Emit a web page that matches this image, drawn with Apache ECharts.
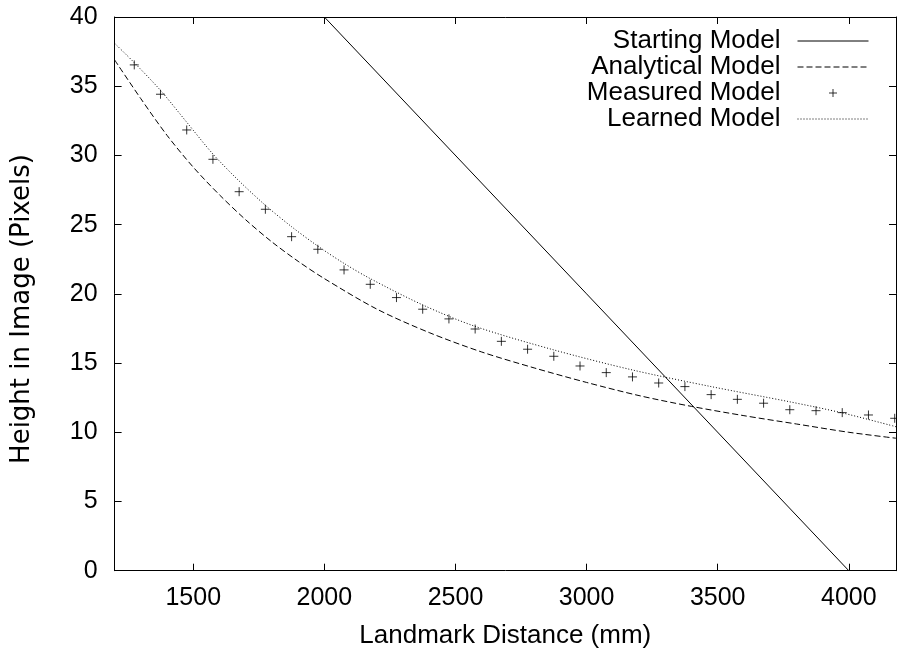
<!DOCTYPE html>
<html><head><meta charset="utf-8">
<script src="https://cdn.jsdelivr.net/npm/echarts@6/dist/echarts.min.js"></script>
<style>html,body{margin:0;padding:0;background:#fff}#c{width:897px;height:654px}</style>
</head><body><div id="c"></div>
<script>
// ---- data ----
const xTickValues = [1500, 2000, 2500, 3000, 3500, 4000];
const yTickValues = [0, 5, 10, 15, 20, 25, 30, 35, 40];

const seriesNames = ['Starting Model', 'Analytical Model', 'Measured Model', 'Learned Model'];

const startingX = [2000, 4000];
const startingY = [40, 0];

const analyticalX = [1200, 1300, 1400, 1500, 1600, 1700, 1800, 1900, 2000, 2200, 2400, 2600, 2800, 3000, 3200, 3400, 3600, 3800, 4000, 4180];
const analyticalY = [36.9, 34.1, 31.45, 29.15, 27.15, 25.35, 23.75, 22.35, 21.1, 18.9, 17.2, 15.8, 14.65, 13.6, 12.65, 11.87, 11.2, 10.6, 10.0, 9.57];

const measuredX = [1275, 1375, 1475, 1575, 1675, 1775, 1875, 1975, 2075, 2175, 2275, 2375, 2475, 2575, 2675, 2775, 2875, 2975, 3075, 3175, 3275, 3375, 3475, 3575, 3675, 3775, 3875, 3975, 4075, 4175];
const measuredY = [36.54, 34.42, 31.84, 29.72, 27.38, 26.11, 24.13, 23.22, 21.73, 20.69, 19.73, 18.89, 18.19, 17.46, 16.57, 16.0, 15.49, 14.79, 14.31, 14.0, 13.56, 13.3, 12.72, 12.38, 12.1, 11.63, 11.56, 11.42, 11.25, 11.01];

const learnedX = [1200, 1275, 1375, 1475, 1575, 1675, 1775, 1875, 1975, 2075, 2175, 2375, 2575, 2875, 3175, 3475, 3775, 3975, 4180];
const learnedY = [38.1, 36.7, 34.7, 32.4, 30.1, 28.15, 26.4, 24.85, 23.45, 22.2, 21.1, 19.2, 17.65, 15.95, 14.5, 13.3, 12.2, 11.4, 10.4];

// ---- build ----
const zip = (xs, ys) => xs.map((x, i) => [x, ys[i]]);
const FONT = '"Liberation Sans", Arial, Helvetica, sans-serif';
const X_MIN = 1200, X_MAX = 4180;

const chart = echarts.init(document.getElementById('c'), null, {renderer: 'canvas'});

const axisLine = {show: true, onZero: false, lineStyle: {color: '#000', width: 1}};
const tickIn = (vals) => ({show: true, inside: true, length: 7, lineStyle: {color: '#000', width: 1}, customValues: vals});
const plain = (v) => String(v);

const legendTops = [28, 54, 80, 106];
const legendRights = [28, 28, 59.5, 28];

const option = {
  animation: false,
  backgroundColor: '#fff',
  grid: {left: 114.6, right: 1, top: 17, bottom: 83.3, containLabel: false},
  xAxis: [
    {
      type: 'value', position: 'bottom', min: X_MIN, max: X_MAX,
      axisLine: axisLine,
      axisTick: tickIn(xTickValues),
      axisLabel: {show: true, customValues: xTickValues, formatter: plain, color: '#000', fontSize: 25, fontFamily: FONT, margin: 15},
      splitLine: {show: false},
      name: 'Landmark Distance (mm)', nameLocation: 'middle', nameGap: 52,
      nameTextStyle: {color: '#000', fontSize: 26, fontFamily: FONT}
    },
    {
      type: 'value', position: 'top', min: X_MIN, max: X_MAX,
      axisLine: axisLine,
      axisTick: tickIn(xTickValues),
      axisLabel: {show: false, customValues: xTickValues},
      splitLine: {show: false}
    }
  ],
  yAxis: [
    {
      type: 'value', position: 'left', min: 0, max: 40, interval: 5,
      axisLine: axisLine,
      axisTick: tickIn(yTickValues),
      axisLabel: {show: true, customValues: yTickValues, formatter: plain, color: '#000', fontSize: 25, fontFamily: FONT, margin: 17},
      splitLine: {show: false}
    },
    {
      type: 'value', position: 'right', min: 0, max: 40, interval: 5,
      axisLine: axisLine,
      axisTick: tickIn(yTickValues),
      axisLabel: {show: false},
      splitLine: {show: false}
    }
  ],
  legend: seriesNames.map((n, i) => ({
    data: [n],
    right: legendRights[i], top: legendTops[i],
    orient: 'horizontal', align: 'right', padding: 0,
    itemWidth: 71, itemHeight: n === 'Measured Model' ? 8 : 10,
    selectedMode: false,
    itemStyle: n === 'Measured Model' ? {borderWidth: 1} : {opacity: 0, borderWidth: 0},
    lineStyle: {width: 1},
    textStyle: {color: '#000', fontSize: 26, fontFamily: FONT, padding: [0, 12, 0, 0]}
  })),
  graphic: [{
    type: 'text', x: 22, y: 309, rotation: Math.PI / 2,
    style: {text: 'Height in Image (Pixels)', fill: '#000', font: '26px "DejaVu Sans", sans-serif', align: 'center', verticalAlign: 'middle'}
  }],
  series: [
    {
      name: seriesNames[0], type: 'line', data: zip(startingX, startingY),
      symbol: 'none', showSymbol: false,
      lineStyle: {color: '#000', width: 1, type: 'solid'}, itemStyle: {color: '#000'}
    },
    {
      name: seriesNames[1], type: 'line', data: zip(analyticalX, analyticalY),
      symbol: 'none', showSymbol: false, smooth: 0.3,
      lineStyle: {color: '#000', width: 1, type: [6, 3]}, itemStyle: {color: '#000'}
    },
    {
      name: seriesNames[2], type: 'scatter', data: zip(measuredX, measuredY),
      symbol: 'path://M0,5L10,5M5,0L5,10', symbolSize: 9,
      itemStyle: {color: '#000', borderColor: '#000', borderWidth: 1}
    },
    {
      name: seriesNames[3], type: 'line', data: zip(learnedX, learnedY),
      symbol: 'none', showSymbol: false, smooth: 0.3,
      lineStyle: {color: '#000', width: 1, type: [1, 2]}, itemStyle: {color: '#000'}
    }
  ]
};
chart.setOption(option);
</script>
</body></html>
